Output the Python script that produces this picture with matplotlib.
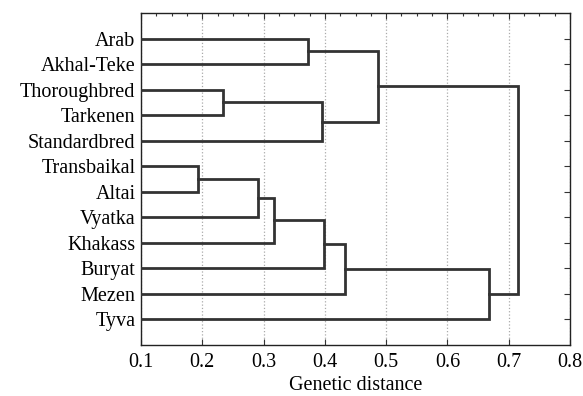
import numpy as np
import matplotlib
matplotlib.use('Agg')
import matplotlib.pyplot as plt
from matplotlib.ticker import MultipleLocator

# 品种（从上到下）
breeds = ['Arab', 'Akhal-Teke', 'Thoroughbred', 'Tarkenen', 'Standardbred',
          'Transbaikal', 'Altai', 'Vyatka', 'Khakass', 'Buryat', 'Mezen', 'Tyva']

# 聚类合并: (左, 右, 遗传距离)，叶子用名字，内部节点用编号 'n0', 'n1'...
merges = [
    ('Arab', 'Akhal-Teke', 0.373),          # n0
    ('Thoroughbred', 'Tarkenen', 0.234),    # n1
    ('n1', 'Standardbred', 0.396),          # n2
    ('n0', 'n2', 0.486),                    # n3
    ('Transbaikal', 'Altai', 0.193),        # n4
    ('n4', 'Vyatka', 0.291),                # n5
    ('n5', 'Khakass', 0.317),               # n6
    ('n6', 'Buryat', 0.398),                # n7
    ('n7', 'Mezen', 0.433),                 # n8
    ('n8', 'Tyva', 0.668),                  # n9
    ('n3', 'n9', 0.715),                    # n10
]

x0 = 0.1
plt.rcParams['font.family'] = 'Liberation Serif'
plt.rcParams['font.size'] = 14.5

fig = plt.figure(figsize=(5.83, 3.96), dpi=100)
ax = fig.add_axes([141 / 583, 0.1288, 429 / 583, 0.8384])

# 节点位置
pos = {b: (x0, i + 1) for i, b in enumerate(breeds)}
lc = '#333333'
lw = 2.0
for k, (a, b, h) in enumerate(merges):
    xa, ya = pos[a]
    xb, yb = pos[b]
    ax.plot([xa, h, h, xb], [ya, ya, yb, yb], color=lc, lw=lw,
            solid_joinstyle='miter', zorder=3)
    pos['n%d' % k] = (h, (ya + yb) / 2)

ax.set_xlim(0.1, 0.8)
ax.set_ylim(13, 0)
ax.set_yticks(np.arange(1, len(breeds) + 1))
ax.set_yticklabels(breeds)
ax.xaxis.set_major_locator(MultipleLocator(0.1))
ax.xaxis.set_minor_locator(MultipleLocator(0.025))
ax.tick_params(axis='both', which='both', direction='in', top=True, right=True,
               left=False, width=0.8, color='#333333')
ax.tick_params(axis='x', which='minor', bottom=False, length=2.5)
ax.tick_params(axis='both', which='major', length=4, pad=6)
ax.tick_params(axis='y', which='both', left=False, labelleft=True, pad=4)
ax.xaxis.set_major_formatter(matplotlib.ticker.FormatStrFormatter('%.1f'))
ax.grid(axis='x', which='major', linestyle=':', color='#aaaaaa', lw=0.9)
for s in ax.spines.values():
    s.set_color('#222222')
    s.set_linewidth(1.0)

ax.set_xlabel('Genetic distance', labelpad=3)

plt.savefig('out.png', dpi=100)
